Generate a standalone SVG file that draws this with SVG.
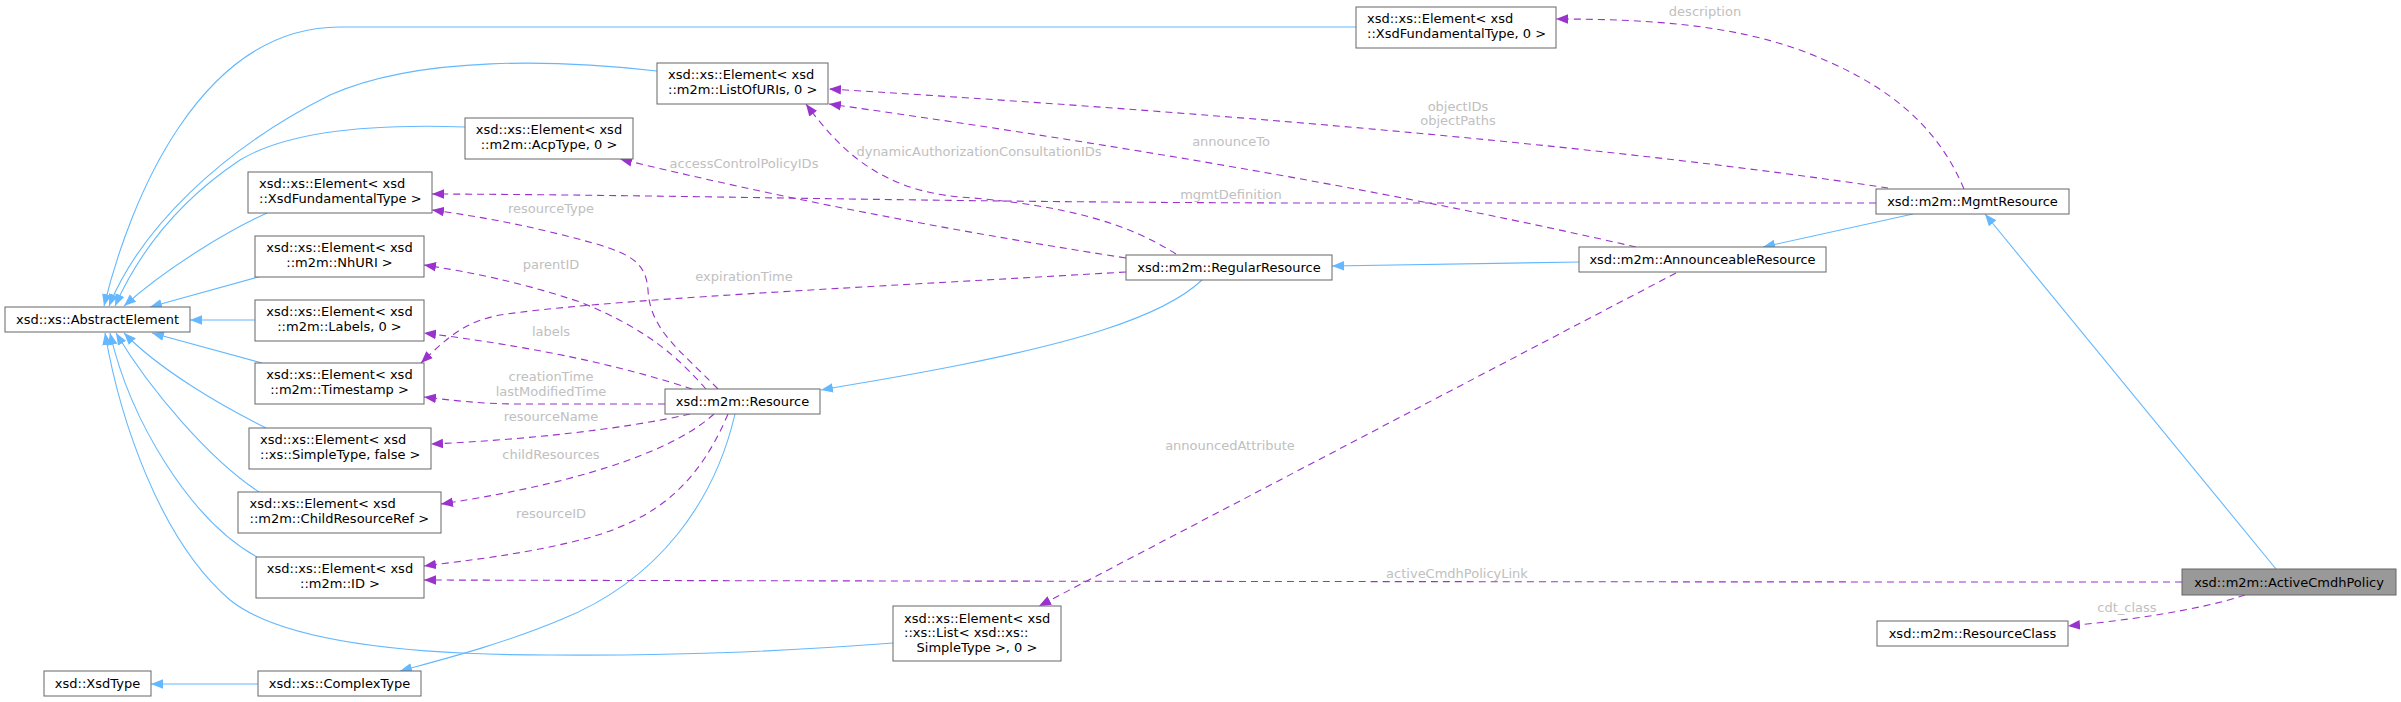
<svg xmlns="http://www.w3.org/2000/svg" width="2401" height="702" viewBox="0 0 2401 702">
<style>
.n rect{fill:#ffffff;stroke:#666666;stroke-width:1}
.n text{font-family:"DejaVu Sans",sans-serif;font-size:13px;fill:#000000}
.c{text-anchor:middle}
.inh{fill:none;stroke:#63b8ff;stroke-width:1.1;marker-end:url(#ab)}
.use{fill:none;stroke:#9a32cd;stroke-width:1.1;stroke-dasharray:7,5;marker-end:url(#ap)}
.lbl{font-family:"DejaVu Sans",sans-serif;font-size:13px;fill:#c0c0c0;text-anchor:middle}
</style>
<defs>
<marker id="ab" viewBox="0 0 10 8" refX="10" refY="4" markerWidth="12" markerHeight="10" markerUnits="userSpaceOnUse" orient="auto"><path d="M0,0 L10,4 L0,8 z" fill="#63b8ff"/></marker>
<marker id="ap" viewBox="0 0 10 8" refX="10" refY="4" markerWidth="12" markerHeight="10" markerUnits="userSpaceOnUse" orient="auto"><path d="M0,0 L10,4 L0,8 z" fill="#9a32cd"/></marker>
</defs>
<rect width="2401" height="702" fill="#ffffff"/>
<g id="edges">
<path class="inh" d="M1356,27 L340,27 C200,27 130,200 104,306"/>
<path class="inh" d="M657,71 C560,60 420,55 330,95 C220,150 140,230 109,306"/>
<path class="inh" d="M465,127 C380,124 290,130 240,160 C180,200 140,250 115,306"/>
<path class="inh" d="M267,213 C230,230 170,265 124,306"/>
<path class="inh" d="M262,276 L150,307"/>
<path class="inh" d="M255,320 L190,320"/>
<path class="inh" d="M262,363 L152,333"/>
<path class="inh" d="M266,428 C220,405 160,370 124,333"/>
<path class="inh" d="M259,492 C210,460 150,390 116,333"/>
<path class="inh" d="M257,557 C190,520 130,420 110,333"/>
<path class="inh" d="M893,643 C800,650 700,656 550,655 C400,655 280,640 230,600 C160,540 120,420 105,333"/>
<path class="inh" d="M735,414 C715,500 660,580 560,620 C500,645 440,660 400,671"/>
<path class="inh" d="M258,684 L151,684"/>
<path class="inh" d="M1202,280 C1160,320 1060,345 960,365 C900,377 860,383 821,390"/>
<path class="inh" d="M1579,262 L1332,266"/>
<path class="inh" d="M1913,214 L1763,247"/>
<path class="inh" d="M2276,569 L1985,214"/>
<path class="use" d="M1964,189 C1935,120 1880,80 1800,50 C1730,25 1650,19 1556,19"/>
<path class="use" d="M1888,188 Q1500,130 829,89"/>
<path class="use" d="M1636,247 Q1300,170 829,104"/>
<path class="use" d="M1176,254 C1130,225 1070,205 960,197 C880,190 840,150 806,104"/>
<path class="use" d="M1126,258 Q850,215 620,159"/>
<path class="use" d="M1876,203 L1300,203 C900,202 700,195 432,194"/>
<path class="use" d="M718,389 C680,350 650,330 648,290 C646,262 630,255 600,245 C540,228 490,218 432,210"/>
<path class="use" d="M706,389 C680,360 650,330 580,302 C520,282 470,272 424,265"/>
<path class="use" d="M692,389 C640,372 560,350 424,333"/>
<path class="use" d="M665,404 L520,404 C480,404 450,400 424,397"/>
<path class="use" d="M690,414 C620,430 520,440 431,444"/>
<path class="use" d="M714,414 C680,445 600,480 441,504"/>
<path class="use" d="M728,414 C700,480 660,520 580,540 C520,555 470,560 424,566"/>
<path class="use" d="M1126,272 C850,288 600,300 500,315 C465,322 450,335 421,363"/>
<path class="use" d="M2182,582 C1500,582 800,581 424,580"/>
<path class="use" d="M1676,273 L1039,606"/>
<path class="use" d="M2245,595 C2200,610 2130,620 2068,626"/>
<text class="lbl" x="1705" y="16">description</text>
<text class="lbl" x="1458" y="111">objectIDs</text>
<text class="lbl" x="1458" y="125">objectPaths</text>
<text class="lbl" x="1231" y="146">announceTo</text>
<text class="lbl" x="979" y="156">dynamicAuthorizationConsultationIDs</text>
<text class="lbl" x="744" y="168">accessControlPolicyIDs</text>
<text class="lbl" x="1231" y="199">mgmtDefinition</text>
<text class="lbl" x="551" y="213">resourceType</text>
<text class="lbl" x="551" y="269">parentID</text>
<text class="lbl" x="744" y="281">expirationTime</text>
<text class="lbl" x="551" y="336">labels</text>
<text class="lbl" x="551" y="381">creationTime</text>
<text class="lbl" x="551" y="396">lastModifiedTime</text>
<text class="lbl" x="551" y="421">resourceName</text>
<text class="lbl" x="551" y="459">childResources</text>
<text class="lbl" x="551" y="518">resourceID</text>
<text class="lbl" x="1230" y="450">announcedAttribute</text>
<text class="lbl" x="1457" y="578">activeCmdhPolicyLink</text>
<text class="lbl" x="2127" y="612">cdt_class</text>
</g>
<g id="AbstractElement" class="n"><rect x="5" y="307" width="185" height="25"/><text class="c" x="97.5" y="324">xsd::xs::AbstractElement</text></g>
<g id="ElemXsdFund0" class="n"><rect x="1356" y="7" width="200" height="41"/><text x="1367" y="23">xsd::xs::Element&lt; xsd</text><text x="1367" y="38">::XsdFundamentalType, 0 &gt;</text></g>
<g id="ElemListOfURIs" class="n"><rect x="657" y="63" width="171" height="41"/><text x="668" y="79">xsd::xs::Element&lt; xsd</text><text x="668" y="94">::m2m::ListOfURIs, 0 &gt;</text></g>
<g id="ElemAcpType" class="n"><rect x="465" y="118" width="168" height="41"/><text class="c" x="549" y="134">xsd::xs::Element&lt; xsd</text><text class="c" x="549" y="149">::m2m::AcpType, 0 &gt;</text></g>
<g id="ElemXsdFund" class="n"><rect x="248" y="172" width="184" height="41"/><text x="259" y="188">xsd::xs::Element&lt; xsd</text><text x="259" y="203">::XsdFundamentalType &gt;</text></g>
<g id="ElemNhURI" class="n"><rect x="255" y="236" width="169" height="41"/><text class="c" x="339.5" y="252">xsd::xs::Element&lt; xsd</text><text class="c" x="339.5" y="267">::m2m::NhURI &gt;</text></g>
<g id="ElemLabels" class="n"><rect x="255" y="300" width="169" height="41"/><text class="c" x="339.5" y="316">xsd::xs::Element&lt; xsd</text><text class="c" x="339.5" y="331">::m2m::Labels, 0 &gt;</text></g>
<g id="ElemTimestamp" class="n"><rect x="255" y="363" width="169" height="41"/><text class="c" x="339.5" y="379">xsd::xs::Element&lt; xsd</text><text class="c" x="339.5" y="394">::m2m::Timestamp &gt;</text></g>
<g id="ElemSimpleType" class="n"><rect x="249" y="428" width="182" height="41"/><text x="260" y="444">xsd::xs::Element&lt; xsd</text><text x="260" y="459">::xs::SimpleType, false &gt;</text></g>
<g id="ElemChildRef" class="n"><rect x="238" y="492" width="203" height="41"/><text x="249.5" y="508">xsd::xs::Element&lt; xsd</text><text x="249.5" y="523">::m2m::ChildResourceRef &gt;</text></g>
<g id="ElemID" class="n"><rect x="256" y="557" width="168" height="41"/><text class="c" x="340" y="573">xsd::xs::Element&lt; xsd</text><text class="c" x="340" y="588">::m2m::ID &gt;</text></g>
<g id="XsdType" class="n"><rect x="44" y="671" width="107" height="25"/><text class="c" x="97.5" y="688">xsd::XsdType</text></g>
<g id="ComplexType" class="n"><rect x="258" y="671" width="163" height="25"/><text class="c" x="339.5" y="688">xsd::xs::ComplexType</text></g>
<g id="ElemList" class="n"><rect x="893" y="606" width="168" height="55"/><text x="904" y="623">xsd::xs::Element&lt; xsd</text><text x="904" y="637">::xs::List&lt; xsd::xs::</text><text class="c" x="977" y="652">SimpleType &gt;, 0 &gt;</text></g>
<g id="Resource" class="n"><rect x="665" y="389" width="155" height="25"/><text class="c" x="742.5" y="406">xsd::m2m::Resource</text></g>
<g id="RegularResource" class="n"><rect x="1126" y="255" width="206" height="25"/><text class="c" x="1229" y="272">xsd::m2m::RegularResource</text></g>
<g id="AnnounceableResource" class="n"><rect x="1579" y="247" width="247" height="25"/><text class="c" x="1702.5" y="264">xsd::m2m::AnnounceableResource</text></g>
<g id="MgmtResource" class="n"><rect x="1876" y="189" width="193" height="25"/><text class="c" x="1972.5" y="206">xsd::m2m::MgmtResource</text></g>
<g id="ActiveCmdhPolicy" class="n"><rect x="2182" y="569" width="214" height="26" style="fill:#999999"/><text class="c" x="2289" y="587">xsd::m2m::ActiveCmdhPolicy</text></g>
<g id="ResourceClass" class="n"><rect x="1877" y="621" width="191" height="25"/><text class="c" x="1972.5" y="638">xsd::m2m::ResourceClass</text></g>
</svg>
